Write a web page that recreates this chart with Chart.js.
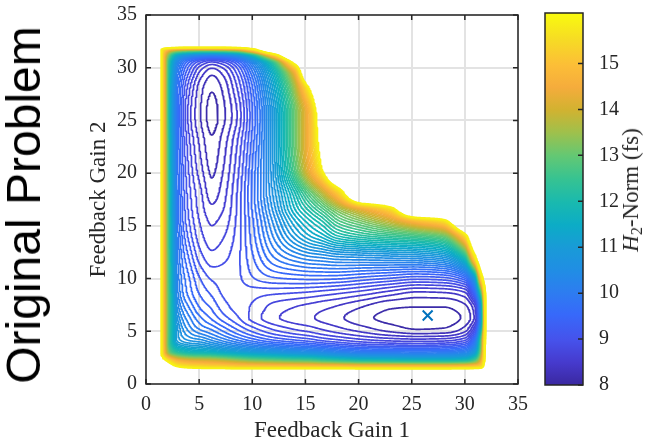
<!DOCTYPE html>
<html>
<head>
<meta charset="utf-8">
<title>Original Problem</title>
<script src="https://cdn.jsdelivr.net/npm/chart.js@4.4.1/dist/chart.umd.min.js"></script>
<style>
  html, body { margin: 0; padding: 0; background: #fff; }
  #wrap { position: relative; width: 646px; height: 443px; overflow: hidden; }
  #main { position: absolute; left: 0; top: -6px; width: 537px; height: 449px; }
  #cbar { position: absolute; left: 530px; top: -7px; width: 116px; height: 450px; }
  .rot { position: absolute; white-space: nowrap; transform: translate(-50%, -50%) rotate(-90deg); }
  #side { left: 24px; top: 205px; font: 48px/54px "Liberation Sans", Arial, sans-serif; color: #000; }
  #cblabel { left: 631px; top: 190px; font: 23px/26px "Liberation Serif", "Times New Roman", serif; color: #262626; }
  #cblabel sub { font-size: 0.7em; line-height: 0; vertical-align: -0.25em; }
</style>
</head>
<body>
<div id="wrap">
  <canvas id="main" width="537" height="449"></canvas>
  <canvas id="cbar" width="116" height="450"></canvas>
  <div id="side" class="rot">Original Problem</div>
  <div id="cblabel" class="rot"><i>H</i><sub>2</sub>-Norm (fs)</div>
</div>
<script>
// H2-norm map: columns = Feedback Gain 1, rows = Feedback Gain 2
const gainX = [1.0, 1.5, 2.2, 3.0, 4.2, 5.2, 6.2, 7.2, 8.5, 10, 12, 14, 15.5, 16.5, 18, 20.5, 23, 25.5, 28, 30, 31, 31.6, 32.2];
const gainY = [1.0, 1.5, 2.2, 3.0, 4.2, 5.3, 6.3, 7.3, 8.5, 10, 12, 14, 15.5, 16.5, 18, 20.5, 23, 25.5, 28, 29.5, 30.5, 31.2, 31.7, 32.2];
const _ = null; // unstable gains, no value
const h2Norm = [
  [_, _, _, _, _, _, _, _, _, _, _, _, _, _, _, _, _, _, _, _, _, _, _],
  [_, _, 17, 16.3, 16.0, 15.9, 15.8, 15.8, 15.7, 15.7, 15.7, 15.7, 15.7, 15.7, 15.7, 15.6, 15.6, 15.6, 15.6, 15.7, 15.8, 16.0, _],
  [_, 16.8, 15.5, 14.6, 14.2, 14.1, 14.0, 13.8, 13.5, 13.2, 13.0, 12.8, 12.7, 12.5, 12.3, 12.0, 11.9, 11.8, 11.8, 12.0, 12.8, 14.5, _],
  [_, 15.7, 13.0, 12.2, 11.8, 11.7, 11.6, 11.4, 11.2, 11.0, 10.8, 10.6, 10.5, 10.4, 10.2, 10.0, 9.95, 9.9, 9.95, 10.2, 11.0, 13.5, _],
  [_, 15.6, 12.3, 10.9, 10.6, 10.5, 10.3, 10.1, 9.85, 9.6, 9.35, 9.2, 9.1, 9.0, 8.9, 8.75, 8.66, 8.62, 8.65, 8.85, 9.8, 12.8, _],
  [_, 15.6, 12.4, 10.8, 10.2, 9.95, 9.8, 9.6, 9.35, 9.1, 8.85, 8.7, 8.62, 8.55, 8.45, 8.3, 8.16, 8.08, 8.1, 8.3, 8.9, 11.5, _],
  [_, 15.6, 12.4, 10.6, 10.0, 9.7, 9.5, 9.3, 9.1, 8.85, 8.62, 8.5, 8.44, 8.38, 8.3, 8.14, 8.05, 8.01, 8.02, 8.14, 8.5, 10.8, _],
  [_, 15.6, 12.4, 10.4, 9.8, 9.5, 9.35, 9.15, 9.0, 8.88, 8.68, 8.58, 8.52, 8.47, 8.4, 8.25, 8.12, 8.1, 8.1, 8.22, 8.6, 11.0, _],
  [_, 15.6, 12.3, 10.2, 9.6, 9.35, 9.2, 9.05, 8.98, 8.95, 8.9, 8.86, 8.82, 8.78, 8.72, 8.6, 8.45, 8.34, 8.36, 8.5, 9.5, 12.5, _],
  [_, 15.6, 12.2, 10.1, 9.5, 9.2, 9.04, 9.0, 9.02, 9.2, 9.35, 9.4, 9.42, 9.42, 9.4, 9.3, 9.2, 9.1, 9.15, 9.5, 11.0, 15.5, _],
  [_, 15.6, 12.1, 10.0, 9.3, 8.95, 8.8, 8.85, 9.0, 9.35, 9.85, 10.15, 10.3, 10.35, 10.45, 10.5, 10.55, 10.6, 10.8, 12.0, 15.8, _, _],
  [_, 15.6, 12.0, 9.9, 9.1, 8.78, 8.64, 8.72, 8.95, 9.45, 10.2, 10.9, 11.3, 11.5, 11.9, 12.2, 12.4, 12.6, 13.0, 15.4, _, _, _],
  [_, 15.6, 12.0, 9.8, 9.0, 8.7, 8.55, 8.63, 8.92, 9.5, 10.4, 11.3, 11.8, 12.1, 12.7, 13.3, 14.0, 15.0, 15.7, _, _, _, _],
  [_, 15.6, 11.9, 9.8, 8.95, 8.65, 8.47, 8.57, 8.9, 9.55, 10.55, 11.6, 12.2, 12.6, 13.3, 14.3, 15.4, _, _, _, _, _, _],
  [_, 15.6, 11.9, 9.75, 8.9, 8.6, 8.34, 8.5, 8.88, 9.6, 10.7, 11.9, 12.9, 13.6, 15.0, _, _, _, _, _, _, _, _],
  [_, 15.6, 11.8, 9.7, 8.8, 8.45, 8.22, 8.4, 8.8, 9.55, 10.85, 12.8, 14.6, 15.9, _, _, _, _, _, _, _, _, _],
  [_, 15.6, 11.7, 9.65, 8.7, 8.35, 8.13, 8.32, 8.7, 9.45, 10.9, 13.0, 14.9, 16.4, _, _, _, _, _, _, _, _, _],
  [_, 15.5, 11.5, 9.6, 8.58, 8.24, 8.02, 8.2, 8.55, 9.35, 10.9, 13.0, 14.9, 16.8, _, _, _, _, _, _, _, _, _],
  [_, 15.5, 11.6, 9.7, 8.7, 8.3, 8.12, 8.28, 8.7, 9.5, 11.2, 13.5, 16.2, _, _, _, _, _, _, _, _, _, _],
  [_, 15.5, 11.8, 9.9, 8.95, 8.5, 8.3, 8.45, 8.9, 9.8, 11.6, 14.4, _, _, _, _, _, _, _, _, _, _, _],
  [_, 15.5, 12.0, 10.2, 9.3, 8.9, 8.7, 8.85, 9.3, 10.3, 12.4, 16.3, _, _, _, _, _, _, _, _, _, _, _],
  [_, 15.6, 12.8, 11.2, 10.5, 10.2, 10.1, 10.2, 10.6, 11.8, 15.2, _, _, _, _, _, _, _, _, _, _, _, _],
  [_, 15.8, 14.5, 13.8, 13.5, 13.4, 13.4, 13.5, 13.8, 15.3, _, _, _, _, _, _, _, _, _, _, _, _, _],
  [_, _, _, _, _, _, _, _, _, _, _, _, _, _, _, _, _, _, _, _, _, _, _]
];
const levels = [8.10, 8.26, 8.42, 8.58, 8.74, 8.90, 9.06, 9.22, 9.38, 9.54, 9.70, 9.86, 10.02, 10.18,
  10.34, 10.50, 10.66, 10.82, 10.98, 11.14, 11.30, 11.46, 11.62, 11.78, 11.94, 12.10, 12.26, 12.42,
  12.58, 12.74, 12.90, 13.06, 13.22, 13.38, 13.54, 13.70, 13.86, 14.02, 14.18, 14.34, 14.50, 14.66,
  14.82, 14.98, 15.14, 15.30, 15.46, 15.62, 15.78, 15.94];
const optimumX = [26.5];
const optimumY = [6.5];
const cbMin = 8, cbMax = 16.1;
const cbTicks = [8, 9, 10, 11, 12, 13, 14, 15];

const OUT = 18; // stands in for the unstable region when interpolating

// parula-like colormap
const parula = [
  [0.00, 58, 40, 160], [0.06, 70, 58, 205], [0.12, 70, 82, 235], [0.19, 55, 105, 250],
  [0.25, 45, 125, 240], [0.31, 32, 142, 228], [0.37, 25, 155, 215], [0.43, 12, 172, 198],
  [0.49, 25, 185, 175], [0.555, 55, 195, 145], [0.617, 100, 200, 115], [0.68, 160, 192, 75],
  [0.74, 210, 178, 48], [0.80, 245, 172, 60], [0.86, 252, 190, 55], [0.93, 246, 220, 36],
  [1.00, 249, 251, 14]
];
function colorAt(v) {
  const t = Math.min(1, Math.max(0, (v - cbMin) / (cbMax - cbMin)));
  for (let k = 0; k < parula.length - 1; k++) {
    const a = parula[k], b = parula[k + 1];
    if (t <= b[0]) {
      const f = (t - a[0]) / (b[0] - a[0]);
      const c = [1, 2, 3].map(n => Math.round(a[n] + f * (b[n] - a[n])));
      return `rgb(${c[0]},${c[1]},${c[2]})`;
    }
  }
  return 'rgb(249,251,14)';
}

// --- smooth the read grid with a monotone (pchip) bicubic, no overshoot ---
const nX = gainX.length, nY = gainY.length;
const ci = (k, n) => Math.min(Math.max(k, 0), n - 1);
const Z = (j, i) => {
  const v = h2Norm[ci(j, nY)][ci(i, nX)];
  return v === null ? OUT : v;
};
function pchipSlope(sa, sb, ha, hb) {
  if (ha === 0 || hb === 0 || sa * sb <= 0) return 0;
  const w1 = 2 * hb + ha, w2 = hb + 2 * ha;
  return (w1 + w2) / (w1 / sa + w2 / sb);
}
function pchip(xs, ps, x) {
  const h0 = xs[1] - xs[0], h1 = xs[2] - xs[1], h2 = xs[3] - xs[2];
  const s0 = h0 > 0 ? (ps[1] - ps[0]) / h0 : 0;
  const s1 = (ps[2] - ps[1]) / h1;
  const s2 = h2 > 0 ? (ps[3] - ps[2]) / h2 : 0;
  const d1 = pchipSlope(s0, s1, h0, h1), d2 = pchipSlope(s1, s2, h1, h2);
  const t = (x - xs[1]) / h1, t2 = t * t, t3 = t2 * t;
  return (2 * t3 - 3 * t2 + 1) * ps[1] + (t3 - 2 * t2 + t) * h1 * d1 +
         (-2 * t3 + 3 * t2) * ps[2] + (t3 - t2) * h1 * d2;
}
function cellOf(arr, v) {
  for (let k = 0; k < arr.length - 2; k++) if (v <= arr[k + 1]) return k;
  return arr.length - 2;
}
function fieldAt(x, y) {
  const i = cellOf(gainX, x), j = cellOf(gainY, y);
  const cx = [i - 1, i, i + 1, i + 2].map(k => gainX[ci(k, nX)]);
  const cy = [j - 1, j, j + 1, j + 2].map(k => gainY[ci(k, nY)]);
  const col = [];
  for (let m = -1; m <= 2; m++) {
    col.push(pchip(cx, [Z(j + m, i - 1), Z(j + m, i), Z(j + m, i + 1), Z(j + m, i + 2)],
      Math.min(Math.max(x, gainX[i]), gainX[i + 1])));
  }
  return pchip(cy, col, Math.min(Math.max(y, gainY[j]), gainY[j + 1]));
}

const fx = [], fy = [];
for (let k = 0; k <= 318; k++) { fx.push(0.8 + k * 0.1); fy.push(0.8 + k * 0.1); }
const nx = fx.length, ny = fy.length;
const F = new Float64Array(nx * ny);
for (let j = 0; j < ny; j++) for (let i = 0; i < nx; i++) F[j * nx + i] = fieldAt(fx[i], fy[j]);

// --- marching squares, chained into polylines ---
function traceLevel(lev) {
  const pts = new Map();
  const segA = [], segB = [];
  const ep = (key, x1, y1, v1, x2, y2, v2) => {
    if (!pts.has(key)) {
      const t = (lev - v1) / (v2 - v1);
      pts.set(key, { x: x1 + t * (x2 - x1), y: y1 + t * (y2 - y1) });
    }
    return key;
  };
  for (let j = 0; j < ny - 1; j++) {
    for (let i = 0; i < nx - 1; i++) {
      const a = F[j * nx + i], b = F[j * nx + i + 1], c = F[(j + 1) * nx + i + 1], d = F[(j + 1) * nx + i];
      const k = (a > lev ? 1 : 0) | (b > lev ? 2 : 0) | (c > lev ? 4 : 0) | (d > lev ? 8 : 0);
      if (k === 0 || k === 15) continue;
      const x0 = fx[i], x1 = fx[i + 1], y0 = fy[j], y1 = fy[j + 1];
      const B = () => ep(2 * (j * nx + i), x0, y0, a, x1, y0, b);
      const T = () => ep(2 * ((j + 1) * nx + i), x0, y1, d, x1, y1, c);
      const L = () => ep(2 * (j * nx + i) + 1, x0, y0, a, x0, y1, d);
      const R = () => ep(2 * (j * nx + i + 1) + 1, x1, y0, b, x1, y1, c);
      const add = (p, q) => { segA.push(p); segB.push(q); };
      const mid = (a + b + c + d) / 4;
      switch (k) {
        case 1: case 14: add(L(), B()); break;
        case 2: case 13: add(B(), R()); break;
        case 3: case 12: add(L(), R()); break;
        case 4: case 11: add(R(), T()); break;
        case 6: case 9: add(B(), T()); break;
        case 7: case 8: add(L(), T()); break;
        case 5: if (mid > lev) { add(B(), R()); add(T(), L()); } else { add(L(), B()); add(R(), T()); } break;
        case 10: if (mid > lev) { add(L(), B()); add(R(), T()); } else { add(B(), R()); add(T(), L()); } break;
      }
    }
  }
  const adj = new Map();
  const link = (key, s) => { const l = adj.get(key); if (l) l.push(s); else adj.set(key, [s]); };
  for (let s = 0; s < segA.length; s++) { link(segA[s], s); link(segB[s], s); }
  const used = new Uint8Array(segA.length);
  const walk = (key) => {
    const out = [];
    let k = key;
    for (;;) {
      let next = -1;
      for (const t of adj.get(k)) if (!used[t]) { next = t; break; }
      if (next < 0) break;
      used[next] = 1;
      k = segA[next] === k ? segB[next] : segA[next];
      out.push(k);
    }
    return out;
  };
  const data = [];
  for (let s = 0; s < segA.length; s++) {
    if (used[s]) continue;
    used[s] = 1;
    const fwd = walk(segB[s]);
    const back = walk(segA[s]).reverse();
    back.concat([segA[s], segB[s]], fwd).forEach(key => data.push(pts.get(key)));
    data.push({ x: null, y: null });
  }
  return data;
}

const datasets = levels.map((lev, i) => ({
  data: traceLevel(lev),
  borderColor: colorAt(lev),
  borderWidth: 1.7,
  borderJoinStyle: 'round',
  borderCapStyle: 'round',
  pointRadius: 0,
  showLine: true,
  spanGaps: false,
  order: 200 - i
}));
datasets.push({
  data: optimumX.map((x, k) => ({ x: x, y: optimumY[k] })),
  pointStyle: 'crossRot',
  pointRadius: 7,
  borderColor: '#0072bd',
  backgroundColor: '#0072bd',
  borderWidth: 2,
  showLine: false,
  order: 0
});

const serif = '"Liberation Serif", "Times New Roman", serif';
const ink = '#262626';

const boxPlugin = {
  id: 'box',
  afterDraw(chart) {
    const { ctx, chartArea: a, scales: { x, y } } = chart;
    ctx.save();
    ctx.strokeStyle = ink;
    ctx.lineWidth = 1.5;
    ctx.strokeRect(a.left, a.top, a.right - a.left, a.bottom - a.top);
    ctx.beginPath();
    x.ticks.forEach(t => {
      const p = x.getPixelForValue(t.value);
      ctx.moveTo(p, a.bottom); ctx.lineTo(p, a.bottom - 5);
      ctx.moveTo(p, a.top); ctx.lineTo(p, a.top + 5);
    });
    y.ticks.forEach(t => {
      const p = y.getPixelForValue(t.value);
      ctx.moveTo(a.left, p); ctx.lineTo(a.left + 5, p);
      ctx.moveTo(a.right, p); ctx.lineTo(a.right - 5, p);
    });
    ctx.stroke();
    ctx.restore();
  }
};

new Chart(document.getElementById('main'), {
  type: 'scatter',
  data: { datasets: datasets },
  options: {
    responsive: false,
    animation: false,
    events: [],
    layout: { padding: { top: 12, right: 13, bottom: 0, left: 0 } },
    plugins: { legend: { display: false }, tooltip: { enabled: false } },
    scales: {
      x: {
        type: 'linear', min: 0, max: 35,
        ticks: { stepSize: 5, padding: 9, maxRotation: 0, color: ink, font: { family: serif, size: 20 } },
        grid: { color: '#e3e3e3', lineWidth: 2, drawTicks: false },
        border: { display: false },
        title: { display: true, text: 'Feedback Gain 1', color: ink, font: { family: serif, size: 23 }, padding: { top: 0, bottom: -2 } },
        afterFit: s => { s.height = 59; }
      },
      y: {
        type: 'linear', min: 0, max: 35,
        ticks: { stepSize: 5, padding: 9, color: ink, font: { family: serif, size: 20 } },
        grid: { color: '#e3e3e3', lineWidth: 2, drawTicks: false },
        border: { display: false },
        title: { display: true, text: 'Feedback Gain 2', color: ink, font: { family: serif, size: 23 }, padding: { top: 85, bottom: 0 } },
        afterFit: s => { s.width = 146; }
      }
    }
  },
  plugins: [boxPlugin]
});

// colorbar
const cbPlugin = {
  id: 'cbframe',
  afterDraw(chart) {
    const { ctx, chartArea: a, scales: { y } } = chart;
    ctx.save();
    ctx.strokeStyle = ink;
    ctx.lineWidth = 1.5;
    ctx.strokeRect(a.left, a.top, a.right - a.left, a.bottom - a.top);
    ctx.beginPath();
    y.ticks.forEach(t => {
      const p = y.getPixelForValue(t.value);
      ctx.moveTo(a.right, p); ctx.lineTo(a.right - 5, p);
    });
    ctx.stroke();
    ctx.restore();
  }
};

new Chart(document.getElementById('cbar'), {
  type: 'bar',
  data: {
    labels: [''],
    datasets: [{
      data: [[cbMin, cbMax]],
      barPercentage: 1,
      categoryPercentage: 1,
      borderWidth: 0,
      backgroundColor: c => {
        const { ctx, chartArea } = c.chart;
        if (!chartArea) return '#888';
        const g = ctx.createLinearGradient(0, chartArea.bottom, 0, chartArea.top);
        parula.forEach(p => g.addColorStop(p[0], `rgb(${p[1]},${p[2]},${p[3]})`));
        return g;
      }
    }]
  },
  options: {
    responsive: false,
    animation: false,
    events: [],
    layout: { padding: { top: 11, right: 0, bottom: 58, left: 15 } },
    plugins: { legend: { display: false }, tooltip: { enabled: false } },
    scales: {
      x: { display: false },
      y: {
        position: 'right', min: cbMin, max: cbMax,
        afterBuildTicks: s => { s.ticks = cbTicks.map(v => ({ value: v })); },
        ticks: { padding: 8, color: ink, font: { family: serif, size: 20 } },
        grid: { display: false },
        border: { display: false },
        afterFit: s => { s.width = 63; }
      }
    }
  },
  plugins: [cbPlugin]
});
</script>
</body>
</html>
